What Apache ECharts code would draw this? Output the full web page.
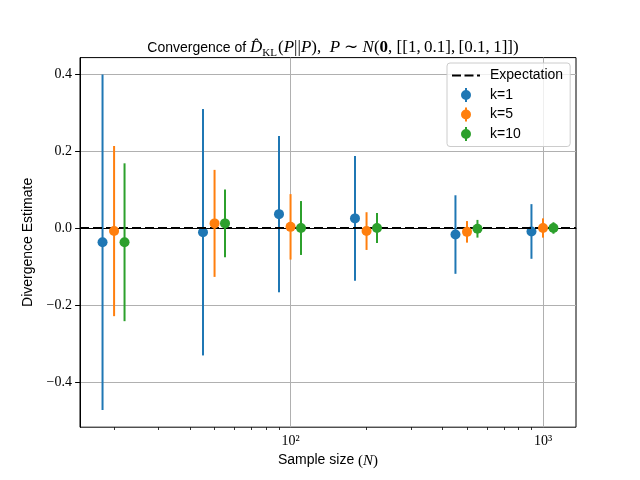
<!DOCTYPE html>
<html>
<head>
<meta charset="utf-8">
<script src="https://cdn.jsdelivr.net/npm/echarts@6/dist/echarts.min.js"></script>
<style>html,body{margin:0;padding:0;background:#fff}#c{width:640px;height:480px}</style>
</head>
<body>
<div id="c"></div>
<script>
// ---- data ----
const sampleSizes = [20, 50, 100, 200, 500, 1000];
const k1Mean  = [-0.037, -0.011, 0.036, 0.025, -0.017, -0.009];
const k1Err   = [0.436, 0.320, 0.203, 0.162, 0.102, 0.071];
const k5Mean  = [-0.008, 0.012, 0.003, -0.008, -0.010, 0.000];
const k5Err   = [0.221, 0.139, 0.085, 0.049, 0.028, 0.025];
const k10Mean = [-0.037, 0.012, 0.000, 0.000, -0.002, 0.000];
const k10Err  = [0.205, 0.088, 0.070, 0.039, 0.023, 0.015];
const expectation = 0;
const yTicks = [-0.4, -0.2, 0.0, 0.2, 0.4];
const xMajorTicks = [100, 1000];
const xMinorTicks = [20, 30, 40, 50, 60, 70, 80, 90, 200, 300, 400, 500, 600, 700, 800, 900];
const seriesNames = ['k=1', 'k=5', 'k=10'];

// ---- layout / style ----
const dodge = [0.9, 1.0, 1.1];
const colors = ['#1f77b4', '#ff7f0e', '#2ca02c'];
const xMin = 1.166, xMax = 3.1307;   // log10 extent
const yMin = -0.5174, yMax = 0.4426;
const lg = Math.log10;
const SANS = 'Liberation Sans';
const SERIF = 'Liberation Serif';

const means = [k1Mean, k5Mean, k10Mean];
const errs = [k1Err, k5Err, k10Err];

const series = [{
  name: 'Expectation',
  type: 'line',
  data: [],
  symbol: 'none',
  lineStyle: {color: '#000', width: 2, type: [9, 4]},
  itemStyle: {color: '#000'},
  z: 1,
  markLine: {
    silent: true, symbol: ['none', 'none'], label: {show: false},
    lineStyle: {color: '#000', width: 2, type: [9, 4]},
    emphasis: {disabled: true},
    data: [{yAxis: expectation}]
  }
}];

seriesNames.forEach((nm, i) => {
  const bars = sampleSizes.map((n, j) => [lg(n * dodge[i]), means[i][j] - errs[i][j], means[i][j] + errs[i][j]]);
  const pts = sampleSizes.map((n, j) => [lg(n * dodge[i]), means[i][j]]);
  series.push({
    name: nm, type: 'custom', z: 3 + i * 2,
    itemStyle: {color: colors[i]},
    encode: {x: 0, y: [1, 2]},
    data: bars,
    renderItem: function (params, api) {
      const a = api.coord([api.value(0), api.value(1)]);
      const b = api.coord([api.value(0), api.value(2)]);
      return {type: 'line', shape: {x1: a[0], y1: a[1], x2: b[0], y2: b[1]},
              style: {stroke: colors[i], lineWidth: 2}};
    }
  });
  series.push({
    name: nm, type: 'scatter', z: 4 + i * 2,
    symbol: 'circle', symbolSize: 10,
    itemStyle: {color: colors[i], opacity: 1},
    data: pts
  });
});

const iconPath = 'path://M4,0L6,0L6,14L4,14Z M0,7A5,5 0 1,1 10,7A5,5 0 1,1 0,7Z';
const dashIcon = 'path://M0,0h9v2h-9Z M12.5,0h9v2h-9Z M25,0h3v2h-3Z';
const TS = '\u2009';

const option = {
  animation: false,
  backgroundColor: '#fff',
  title: {
    text: '{s|Convergence of }{m|D\u0302}{sub|KL}{r|(}{m|P}{r|||}{m|P}{r|),  }{m|P}{r| \u223C }{m|N}{r|(}{b|0}{r|, [[1,' + TS + '0.1],' + TS + '[0.1,' + TS + '1]])}',
    left: 328, top: 32, textAlign: 'center',
    textStyle: {
      fontWeight: 'normal',
      rich: {
        s: {fontFamily: SANS, fontSize: 14, fontWeight: 'normal', color: '#000', lineHeight: 22},
        m: {fontFamily: SERIF, fontStyle: 'italic', fontWeight: 'normal', fontSize: 17, color: '#000', lineHeight: 22},
        r: {fontFamily: SERIF, fontSize: 17, fontWeight: 'normal', color: '#000', lineHeight: 22},
        b: {fontFamily: SERIF, fontWeight: 'bold', fontSize: 17, color: '#000', lineHeight: 22},
        sub: {fontFamily: SERIF, fontSize: 11, fontWeight: 'normal', color: '#000', verticalAlign: 'bottom', lineHeight: 22, padding: [0, 1, 0, 0]}
      }
    }
  },
  grid: {left: 80, right: 64, top: 57.6, bottom: 52.8, show: true, borderColor: '#000', borderWidth: 1, backgroundColor: 'transparent'},
  legend: {
    orient: 'vertical', left: 447, top: 63,
    padding: [4.5, 7, 4.5, 5],
    itemWidth: 28, itemHeight: 14, itemGap: 3.5,
    backgroundColor: 'rgba(255,255,255,0.8)', borderColor: '#cccccc', borderWidth: 1, borderRadius: 3,
    textStyle: {fontFamily: SANS, fontSize: 14, color: '#000', lineHeight: 16, padding: [0, 0, 0, 5]},
    selectedMode: false,
    data: [
      {name: 'Expectation', icon: dashIcon, itemStyle: {color: '#000'}},
      {name: 'k=1', icon: iconPath, itemStyle: {color: colors[0]}},
      {name: 'k=5', icon: iconPath, itemStyle: {color: colors[1]}},
      {name: 'k=10', icon: iconPath, itemStyle: {color: colors[2]}}
    ]
  },
  xAxis: [{
    type: 'value', min: xMin, max: xMax, position: 'bottom',
    name: '{s|Sample size }{r|(}{m|N}{r|)}', nameLocation: 'middle', nameGap: 25,
    nameTextStyle: {rich: {
      s: {fontFamily: SANS, fontSize: 14, color: '#000'},
      r: {fontFamily: SERIF, fontSize: 15, color: '#000'},
      m: {fontFamily: SERIF, fontStyle: 'italic', fontSize: 15, color: '#000'}
    }},
    axisLine: {show: true, lineStyle: {color: '#000', width: 1}},
    axisTick: {show: true, length: 4.9, lineStyle: {color: '#000', width: 1}, customValues: xMajorTicks.map(lg)},
    axisLabel: {customValues: xMajorTicks.map(lg), margin: 7, fontFamily: SERIF, fontSize: 14, color: '#000',
      formatter: v => '10' + (Math.round(v) === 2 ? '\u00B2' : '\u00B3')},
    splitLine: {show: true, lineStyle: {color: '#b0b0b0', width: 1}}
  }, {
    type: 'value', min: xMin, max: xMax, position: 'bottom',
    axisLine: {show: false},
    axisTick: {show: true, length: 2.8, lineStyle: {color: '#000', width: 0.8}, customValues: xMinorTicks.map(lg)},
    axisLabel: {show: false},
    splitLine: {show: false}
  }],
  yAxis: {
    type: 'value', min: yMin, max: yMax,
    name: 'Divergence Estimate', nameLocation: 'middle', nameGap: 45,
    nameTextStyle: {fontFamily: SANS, fontSize: 14, color: '#000'},
    axisLine: {show: true, lineStyle: {color: '#000', width: 1}},
    axisTick: {show: true, length: 4.9, lineStyle: {color: '#000', width: 1}, customValues: yTicks},
    axisLabel: {customValues: yTicks, margin: 8, fontFamily: SERIF, fontSize: 14, color: '#000',
      formatter: v => (v < -1e-9 ? '\u2212' : '') + Math.abs(v).toFixed(1)},
    splitLine: {show: true, lineStyle: {color: '#b0b0b0', width: 1}}
  },
  series: series
};

const chart = echarts.init(document.getElementById('c'), null, {renderer: 'canvas'});
chart.setOption(option);
</script>
</body>
</html>
